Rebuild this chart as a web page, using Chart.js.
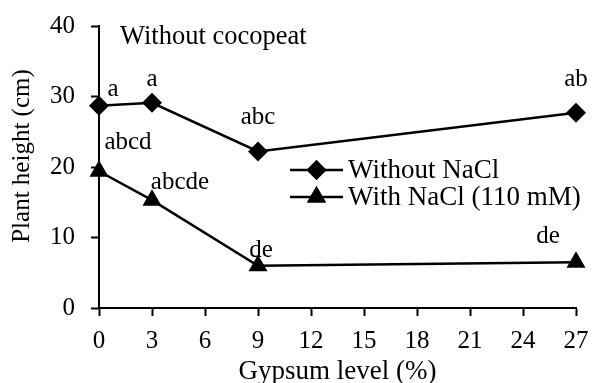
<!DOCTYPE html>
<html>
<head>
<meta charset="utf-8">
<script src="https://cdn.jsdelivr.net/npm/chart.js@4/dist/chart.umd.min.js"></script>
<style>
  html, body { margin: 0; padding: 0; background: #fff; }
  #wrap { width: 592px; height: 383px; }
</style>
</head>
<body>
<div id="wrap"><canvas id="myChart" width="592" height="383"></canvas></div>
<script>
// gypsum levels (%)
var gypsum = [0, 3, 9, 27];
var withoutNaCl = [28.7, 29.1, 22.2, 27.7];
var withNaCl = [19.4, 15.3, 6.0, 6.5];
// letters from mean separation
var lettersWithout = ["a", "a", "abc", "ab"];
var lettersWith = ["abcd", "abcde", "de", "de"];
var xTicks = [0, 3, 6, 9, 12, 15, 18, 21, 24, 27];
var yTicks = [0, 10, 20, 30, 40];
var seriesNames = ["Without NaCl", "With NaCl (110 mM)"];
var panelTitle = "Without cocopeat";
var yTitle = "Plant height (cm)";

var serif = "'Liberation Serif', 'Times New Roman', serif";

function pts(ys) {
  return gypsum.map(function (x, i) { return { x: x, y: ys[i] }; });
}

// label offsets from the point, px
var letterOffsets = [
  [[14, -16], [0, -23], [0, -34], [0, -33]],
  [[29, -29], [28, -18], [3, -15], [-28, -26]]
];
var allLetters = [lettersWithout, lettersWith];

var extras = {
  id: "extras",
  afterDatasetsDraw: function (chart) {
    var ctx = chart.ctx;
    ctx.save();
    ctx.fillStyle = "#000";
    ctx.font = "25px " + serif;
    ctx.textBaseline = "middle";
    ctx.textAlign = "center";
    chart.data.datasets.forEach(function (ds, d) {
      var meta = chart.getDatasetMeta(d);
      meta.data.forEach(function (p, i) {
        var o = letterOffsets[d][i];
        ctx.fillText(allLetters[d][i], p.x + o[0], p.y + o[1]);
      });
    });

    // y title (sits a bit above the plot centre in the original)
    ctx.save();
    ctx.translate(22, 156);
    ctx.rotate(-Math.PI / 2);
    ctx.fillText(yTitle, 0, 0);
    ctx.restore();

    // panel text
    ctx.textAlign = "left";
    ctx.font = "26.5px " + serif;
    ctx.fillText(panelTitle, 120, 37);

    // legend inside plot
    ctx.font = "27px " + serif;
    var lx0 = 290, lx1 = 343, tx = 348;
    var rows = [170, 197];
    chart.data.datasets.forEach(function (ds, d) {
      var y = rows[d];
      ctx.strokeStyle = "#000";
      ctx.lineWidth = 2.5;
      ctx.beginPath();
      ctx.moveTo(lx0, y);
      ctx.lineTo(lx1, y);
      ctx.stroke();
      Chart.helpers.drawPoint(ctx, {
        pointStyle: ds.pointStyle,
        radius: ds.pointRadius,
        rotation: 0,
        borderWidth: 0
      }, (lx0 + lx1) / 2, y);
      ctx.fillStyle = "#000";
      ctx.fill();
      ctx.fillText(ds.label, tx, y + 1);
    });
    ctx.restore();
  }
};

new Chart(document.getElementById("myChart").getContext("2d"), {
  type: "line",
  data: {
    datasets: [{
      label: seriesNames[0],
      data: pts(withoutNaCl),
      borderColor: "#000",
      backgroundColor: "#000",
      borderWidth: 2.5,
      pointStyle: "rectRot",
      pointRadius: 10,
      pointBorderWidth: 0,
      tension: 0
    }, {
      label: seriesNames[1],
      data: pts(withNaCl),
      borderColor: "#000",
      backgroundColor: "#000",
      borderWidth: 2.5,
      pointStyle: "triangle",
      pointRadius: 11,
      pointBorderWidth: 0,
      tension: 0
    }]
  },
  options: {
    responsive: false,
    animation: false,
    clip: false,
    layout: { padding: { left: 0, top: 26, right: 16, bottom: 0 } },
    plugins: { legend: { display: false }, tooltip: { enabled: false } },
    scales: {
      x: {
        type: "linear",
        min: 0,
        max: 27,
        afterBuildTicks: function (s) { s.ticks = xTicks.map(function (v) { return { value: v }; }); },
        afterFit: function (s) { s.height = 75; s.paddingLeft = 0; s.paddingRight = 0; },
        grid: { drawOnChartArea: false, tickLength: 8, tickWidth: 2, tickColor: "#000" },
        border: { color: "#000", width: 2 },
        ticks: { color: "#000", padding: 10, maxRotation: 0, autoSkip: false, font: { family: serif, size: 25 } },
        title: { display: true, text: "Gypsum level (%)", color: "#000", padding: { top: 0, bottom: 0 }, font: { family: serif, size: 27, lineHeight: 0.8 } }
      },
      y: {
        min: 0,
        max: 40,
        afterBuildTicks: function (s) { s.ticks = yTicks.map(function (v) { return { value: v }; }); },
        afterFit: function (s) { s.width = 99; s.paddingTop = 0; s.paddingBottom = 0; },
        grid: { drawOnChartArea: false, tickLength: 8, tickWidth: 2, tickColor: "#000" },
        border: { color: "#000", width: 2 },
        ticks: { color: "#000", padding: 16, font: { family: serif, size: 25 } }
      }
    }
  },
  plugins: [extras]
});
</script>
</body>
</html>
